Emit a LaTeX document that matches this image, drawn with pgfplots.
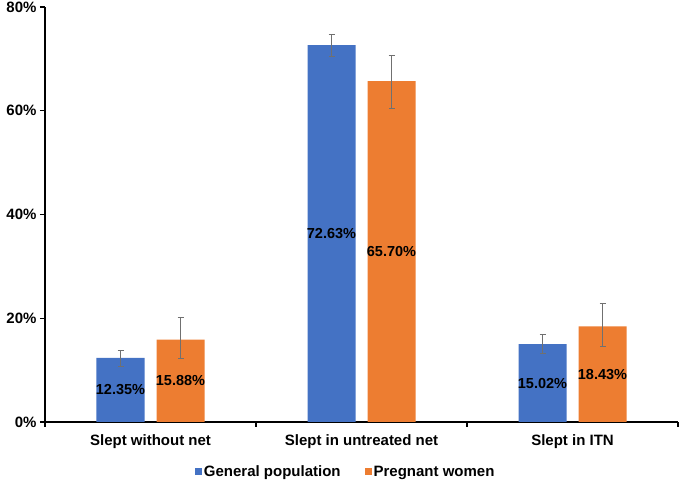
\documentclass[border=0pt]{standalone}
\usepackage{pgfplots}
\pgfplotsset{compat=1.18}
\usepackage{fontspec}
\setmainfont{Liberation Sans}
\definecolor{cblue}{HTML}{4472C4}
\definecolor{corange}{HTML}{ED7D31}
\definecolor{cerr}{HTML}{707070}
\begin{document}
\begin{tikzpicture}
\begin{axis}[
  name=ax,
  scale only axis,
  width=633pt, height=415pt,
  xmin=-0.5, xmax=2.5,
  ymin=0, ymax=80,
  ybar=12pt, bar width=48pt,
  axis lines=left,
  axis line style={-, line width=1.5pt, black},
  tick align=outside,
  ytick={0,20,40,60,80},
  yticklabel={\pgfmathprintnumber{\tick}\%},
  major tick length=5pt,
  tick style={line width=1.2pt, black},
  xtick={-0.5,0.5,1.5,2.5},
  xticklabels={},
  extra x ticks={0,1,2},
  extra x tick labels={Slept without net,Slept in untreated net,Slept in ITN},
  extra x tick style={major tick length=0pt, xticklabel style={yshift=-9pt}},
  /pgf/number format/assume math mode=true,
  tick label style={font=\fontsize{15}{18}\selectfont\bfseries},
  legend style={at={(0.475,-0.12)}, anchor=center, draw=none, legend columns=2,
    font=\fontsize{15}{18}\selectfont\bfseries,
    /tikz/every even column/.append style={column sep=22pt}},
  visualization depends on={y \as \rawy},
  nodes near coords={\pgfmathprintnumber[fixed,fixed zerofill,precision=2]{\pgfplotspointmeta}\%},
  every node near coord/.append style={anchor=center, black,
    font=\fontsize{14.5}{17}\selectfont\bfseries,
    shift={(axis direction cs:0,-\rawy/2)}},
  clip=false,
]
\addplot[fill=cblue, draw=none,
  legend image code/.code={\fill[cblue] (0pt,-3.5pt) rectangle (7pt,3.5pt);},
  error bars/.cd, y dir=both, y explicit,
  error mark=|,
  error bar style={line width=0.8pt, draw=cerr, solid},
  error mark options={line width=0.8pt, mark size=3pt, draw=cerr, solid}]
  coordinates {
    (0,12.35) += (0,1.5) -= (0,1.7)
    (1,72.63) += (0,2.0) -= (0,2.2)
    (2,15.02) += (0,1.8) -= (0,1.7)
  };
\addlegendentry{General population}
\addplot[fill=corange, draw=none,
  legend image code/.code={\fill[corange] (0pt,-3.5pt) rectangle (7pt,3.5pt);},
  error bars/.cd, y dir=both, y explicit,
  error mark=|,
  error bar style={line width=0.8pt, draw=cerr, solid},
  error mark options={line width=0.8pt, mark size=3pt, draw=cerr, solid}]
  coordinates {
    (0,15.88) += (0,4.2) -= (0,3.6)
    (1,65.70) += (0,4.9) -= (0,5.3)
    (2,18.43) += (0,4.4) -= (0,3.9)
  };
\addlegendentry{Pregnant women}
\end{axis}
\pgfresetboundingbox
\path ([shift={(-45pt,-58pt)}]ax.south west) rectangle ([shift={(3pt,7pt)}]ax.north east);
\end{tikzpicture}
\end{document}
